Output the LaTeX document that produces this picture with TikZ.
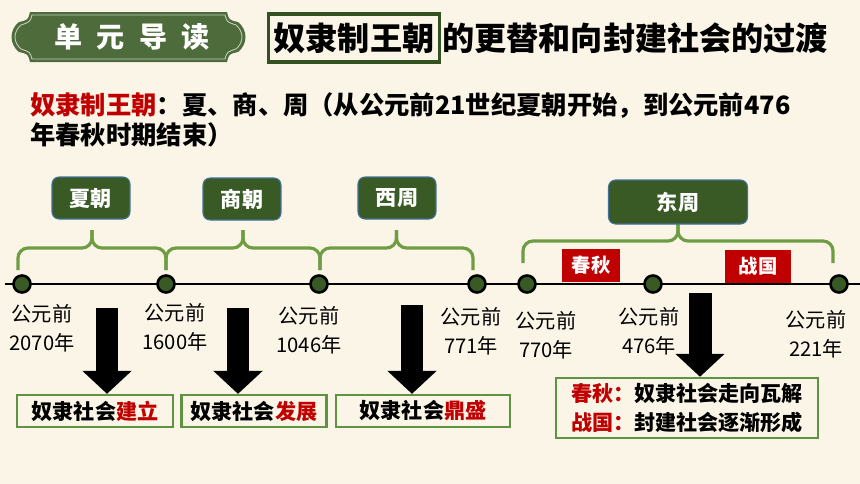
\documentclass[tikz,border=0pt]{standalone}
\usepackage{fontspec}
\setmainfont{Noto Sans CJK SC}
\usepackage{xcolor}
\usetikzlibrary{arrows.meta,positioning,calc}

\definecolor{paper}{HTML}{FBF5E7}
\definecolor{darkgreen}{HTML}{3A5A25}
\definecolor{bracegreen}{HTML}{6F9D43}
\definecolor{boxgreen}{HTML}{5F9343}
\definecolor{edgeblue}{HTML}{41719C}
\definecolor{darkred}{HTML}{C00000}

\begin{document}
\begin{tikzpicture}[
  x=0.02cm, y=-0.02cm,
  dynasty/.style={draw=edgeblue, line width=0.6pt, fill=darkgreen, rounded corners=4pt, text=white, font=\bfseries\fontsize{12}{14}\selectfont, minimum width=1.56cm, minimum height=0.84cm},
  period/.style={fill=darkred, text=white, font=\bfseries\fontsize{11}{13}\selectfont, minimum width=1.16cm, minimum height=0.66cm},
  dot/.style={circle, draw=black, line width=1.5pt, fill=darkgreen, minimum size=0.34cm, inner sep=0pt},
  year/.style={align=center, inner sep=0pt, font=\fontsize{11.5}{16.5}\selectfont},
  result/.style={draw=boxgreen, line width=1.2pt, align=center, minimum height=0.64cm, font=\bfseries\fontsize{12}{16}\selectfont},
  brace/.style={draw=bracegreen, line width=1.8pt, rounded corners=0.2cm},
  bigarrow/.style={line width=0.46cm, -{Triangle[length=0.46cm, width=0.96cm]}}
]
\useasboundingbox[fill=paper] (0,0) rectangle (860,484);

% heading
\fill[darkgreen!90!white] (30,12) -- (227,12) .. controls (229,20) .. (238,22)
  .. controls (248,30) and (248,44) .. (238,52) .. controls (229,54) .. (227,62)
  -- (30,62) .. controls (28,54) .. (19,52) .. controls (9,44) and (9,30) .. (19,22)
  .. controls (28,20) .. (30,12) -- cycle;
\draw[white!70!darkgreen, line width=0.5pt] (32,15) -- (225,15) .. controls (227,22) .. (236,25)
  .. controls (244,32) and (244,42) .. (236,49) .. controls (227,52) .. (225,59)
  -- (32,59) .. controls (30,52) .. (21,49) .. controls (13,42) and (13,32) .. (21,25)
  .. controls (30,22) .. (32,15) -- cycle;
\node[text=white, font=\bfseries\fontsize{16}{18}\selectfont] (banner) at (132,37)
  {单\hspace{0.5em}元\hspace{0.5em}导\hspace{0.5em}读};
\node[draw=darkgreen!90!black, line width=1.8pt, inner xsep=0.1cm, minimum height=0.96cm,
  font=\bfseries\fontsize{18.3}{20}\selectfont] (titlebox) at (354,38) {奴隶制王朝};
\node[anchor=base west, inner sep=0pt, font=\bfseries\fontsize{18.3}{20}\selectfont]
  (titlerest) at ([xshift=0.02cm]titlebox.base east) {的更替和向封建社会的过渡};
\node[anchor=north west, inner sep=0pt, align=left, font=\bfseries\fontsize{14.4}{17.5}\selectfont]
  (intro) at (30,92) {\textcolor{darkred}{奴隶制王朝}：夏、商、周（从公元前21世纪夏朝开始，到公元前476\\年春秋时期结束）};

% timeline
\coordinate (tstart) at (5,284);
\coordinate (tend) at (860,284);
\draw[line width=1.7pt] (tstart) -- (tend);
\node[dot] (d1) at (22,284) {};
\node[dot] (d2) at (166,284) {};
\node[dot] (d3) at (319,284) {};
\node[dot] (d4) at (477,284) {};
\node[dot] (d5) at (527,284) {};
\node[dot] (d6) at (653,284) {};
\node[dot] (d7) at (839,284) {};

\coordinate (b1) at ([shift={(-4,-14)}]d1.center);
\coordinate (b2) at ([shift={(0,-14)}]d2.center);
\coordinate (b3) at ([shift={(1,-14)}]d3.center);
\coordinate (b4) at ([shift={(-4,-14)}]d4.center);
\coordinate (b5) at ([shift={(-4,-21)}]d5.center);
\coordinate (b7) at ([shift={(-6,-21)}]d7.center);
\foreach \l/\r in {b1/b2, b2/b3, b3/b4, b5/b7} {
  \draw[brace] (\l) |- ($(\l)!.5!(\r)+(0,-22)$) -- ++(0,-18);
  \draw[brace] (\r) |- ($(\l)!.5!(\r)+(0,-22)$) -- ++(0,-18);
}

\node[dynasty] (xia) at (91,198) {夏朝};
\node[dynasty] (shang) at (242,199) {商朝};
\node[dynasty] (xizhou) at (397,198) {西周};
\node[dynasty, minimum width=2.78cm, minimum height=0.88cm] (dongzhou) at (678,202) {东周};
\node[period] (chunqiu) at (591,265) {春秋};
\node[period, minimum width=1.34cm] (zhanguo) at (758,266) {战国};

\node[year] (y1) at (42,328) {公元前\\2070年};
\node[year] (y2) at (175,327) {公元前\\1600年};
\node[year] (y3) at (309,330) {公元前\\1046年};
\node[year] (y4) at (471,331) {公元前\\771年};
\node[year] (y5) at (546,335) {公元前\\770年};
\node[year] (y6) at (649,331) {公元前\\476年};
\node[year] (y7) at (816,334) {公元前\\221年};

% results
\node[result, minimum width=3.12cm] (r1) at (95,411) {奴隶社会\textcolor{darkred}{建立}};
\node[result, minimum width=2.9cm] (r2) at (254,411) {奴隶社会\textcolor{darkred}{发展}};
\node[result, minimum width=3.48cm] (r3) at (423,411) {奴隶社会\textcolor{darkred}{鼎盛}};
\node[result, minimum width=5.24cm, minimum height=1.18cm] (r4) at (687,408)
  {\textcolor{darkred}{春秋：}奴隶社会走向瓦解\\\textcolor{darkred}{战国：}封建社会逐渐形成};

\coordinate (a1) at (107,308);
\coordinate (a2) at (238,308);
\coordinate (a3) at (412,305);
\coordinate (a4) at (700,293);
\draw[bigarrow] (a1) -- (a1 |- r1.north);
\draw[bigarrow] (a2) -- (a2 |- r2.north);
\draw[bigarrow] (a3) -- (a3 |- r3.north);
\draw[bigarrow] (a4) -- (a4 |- r4.north);
\end{tikzpicture}
\end{document}
